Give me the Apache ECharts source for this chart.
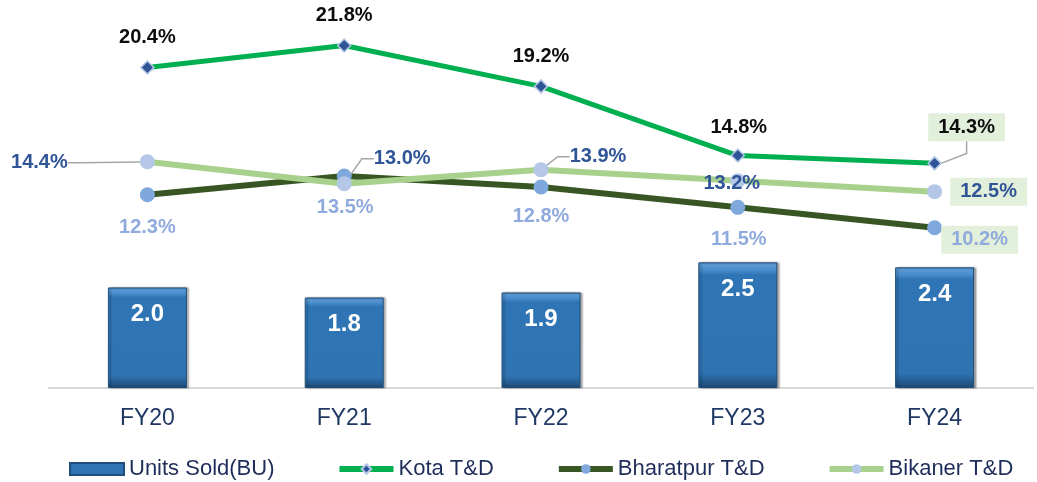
<!DOCTYPE html>
<html>
<head>
<meta charset="utf-8">
<script src="https://cdn.jsdelivr.net/npm/echarts@6/dist/echarts.min.js"></script>
<style>
  html, body { margin: 0; padding: 0; background: #fff; }
  #chart { width: 1037px; height: 482px; }
</style>
</head>
<body>
<div id="chart"></div>
<script>
const categories = ['FY20', 'FY21', 'FY22', 'FY23', 'FY24'];
const unitsSold = [2.0, 1.8, 1.9, 2.5, 2.4];
const kotaTD = [20.4, 21.8, 19.2, 14.8, 14.3];
const bharatpurTD = [12.3, 13.5, 12.8, 11.5, 10.2];
const bikanerTD = [14.4, 13.0, 13.9, 13.2, 12.5];

// label placement (dx, dy from the point), leader lines and boxed labels
const kotaShift = [[0, -30], [0, -30], [0, -30], [1, -28], [32, -36]];
const bharatpurShift = [[0, 33], [1, 32], [0, 30], [1, 32], [45, 12]];
const bikanerShift = [[-108, 1], [58, -25], [57, -13], [-6, 3], [54, 0]];
const kotaLeader = [4];
const bikanerLeader = [0, 1, 2];
const boxed = [4];

const pct = p => p.value.toFixed(1) + '%';

function lineData(values, leaders) {
    return values.map((v, i) => {
        const item = { value: v };
        if (leaders.includes(i)) item.labelLine = { show: true };
        if (boxed.includes(i)) item.label = { backgroundColor: '#e2efda', padding: [4, 10] };
        return item;
    });
}

function shifter(shift) {
    return params => ({ dx: shift[params.dataIndex][0], dy: shift[params.dataIndex][1] });
}

// straight diagonal leader from the marker to the bottom of the moved box
function kotaLayout(params) {
    const [dx, dy] = kotaShift[params.dataIndex];
    const out = { dx, dy };
    if (kotaLeader.includes(params.dataIndex)) {
        const r = params.rect, l = params.labelRect;
        const a = [r.x + r.width * 0.7, r.y + r.height * 0.3];
        const b = [l.x + dx + l.width * 0.5, l.y + dy + l.height];
        out.labelLinePoints = [a, [(a[0] + b[0]) / 2, (a[1] + b[1]) / 2], b];
    }
    return out;
}

const labelBase = {
    show: true,
    position: 'inside',
    fontFamily: 'Liberation Sans',
    fontWeight: 'bold',
    fontSize: 20,
    formatter: pct,
};
const leaderStyle = { lineStyle: { color: '#a6a6a6', width: 1.5 }, length: 8, length2: 12 };

const chart = echarts.init(document.getElementById('chart'));
chart.setOption({
    animation: false,
    textStyle: { fontFamily: 'Liberation Sans' },
    grid: { left: 49, right: 4, top: 11, bottom: 94 },
    legend: {
        left: 64, top: 453,
        itemWidth: 54, itemHeight: 12, itemGap: 62,
        textStyle: { fontSize: 22, color: '#1f2d5a' },
        lineStyle: { width: 6 },
        data: [{ name: 'Units Sold(BU)', icon: 'rect' }, 'Kota T&D', 'Bharatpur T&D', 'Bikaner T&D'],
    },
    xAxis: {
        type: 'category',
        data: categories,
        axisLine: { lineStyle: { color: '#d9d9d9', width: 2 } },
        axisTick: { show: false },
        axisLabel: { fontSize: 23, color: '#1f3864', margin: 19 },
    },
    yAxis: [
        { type: 'value', min: 0, max: 7.5, show: false, splitLine: { show: false } },
        { type: 'value', min: 0, max: 24, show: false, splitLine: { show: false } },
    ],
    series: [
        {
            name: 'Units Sold(BU)',
            type: 'bar',
            data: unitsSold,
            barWidth: 79,
            itemStyle: {
                color: new echarts.graphic.LinearGradient(0, 0, 0, 1, [
                    { offset: 0, color: '#62a0da' },
                    { offset: 0.06, color: '#4a8dcc' },
                    { offset: 0.1, color: '#2f75b6' },
                    { offset: 0.88, color: '#2f73b2' },
                    { offset: 0.94, color: '#255d92' },
                    { offset: 1, color: '#1d4a76' },
                ]),
                borderColor: '#1f4e79',
                borderWidth: 1,
                shadowColor: 'rgba(0,0,0,0.35)',
                shadowOffsetX: 2,
                shadowBlur: 2,
            },
            label: {
                show: true,
                position: 'insideTop',
                distance: 15,
                color: '#fff',
                fontWeight: 'bold',
                fontSize: 24,
                formatter: p => p.value.toFixed(1),
            },
        },
        {
            name: 'Kota T&D',
            type: 'line',
            yAxisIndex: 1,
            data: lineData(kotaTD, kotaLeader),
            symbol: 'diamond',
            symbolSize: 13,
            lineStyle: { color: '#00b050', width: 5 },
            itemStyle: { color: '#2f5597', borderColor: '#b4c7e7', borderWidth: 1.5 },
            label: Object.assign({}, labelBase, { color: '#0d0d0d' }),
            labelLine: Object.assign({ show: false }, leaderStyle),
            labelLayout: kotaLayout,
        },
        {
            name: 'Bharatpur T&D',
            type: 'line',
            yAxisIndex: 1,
            data: lineData(bharatpurTD, []),
            symbol: 'circle',
            symbolSize: 15,
            lineStyle: { color: '#375623', width: 6 },
            itemStyle: { color: '#7fa9dd' },
            label: Object.assign({}, labelBase, { color: '#8faadc' }),
            labelLine: { show: false },
            labelLayout: shifter(bharatpurShift),
        },
        {
            name: 'Bikaner T&D',
            type: 'line',
            yAxisIndex: 1,
            data: lineData(bikanerTD, bikanerLeader),
            symbol: 'circle',
            symbolSize: 15,
            lineStyle: { color: '#a9d18e', width: 6 },
            itemStyle: { color: '#b4c7e7' },
            label: Object.assign({}, labelBase, { color: '#2f5597' }),
            labelLine: Object.assign({ show: false }, leaderStyle),
            labelLayout: shifter(bikanerShift),
        },
    ],
});
</script>
</body>
</html>
